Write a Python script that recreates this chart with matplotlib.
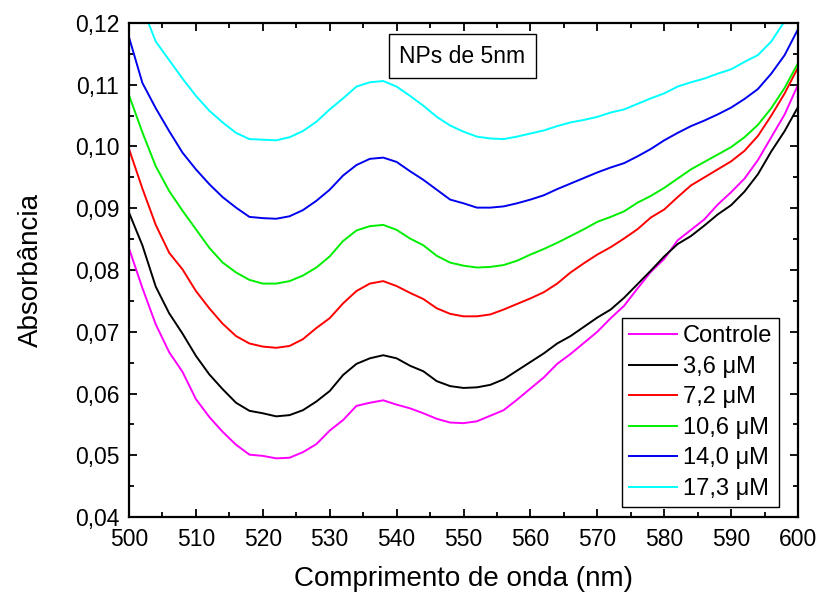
import numpy as np
import matplotlib
matplotlib.use('Agg')
import matplotlib.pyplot as plt
from matplotlib.ticker import MultipleLocator, FuncFormatter

plt.rcParams['font.family'] = ['Liberation Sans', 'DejaVu Sans']

# wavelength grid (nm)
wl = np.arange(500, 601, 2)

controle = [0.0835, 0.0771, 0.0712, 0.0667, 0.0635, 0.0591, 0.0562, 0.0538, 0.0517, 0.0501,
            0.0499, 0.0495, 0.0496, 0.0505, 0.0518, 0.0540, 0.0557, 0.0580, 0.0585, 0.0589,
            0.0582, 0.0576, 0.0568, 0.0559, 0.0553, 0.0552, 0.0555, 0.0564, 0.0573, 0.0590,
            0.0608, 0.0626, 0.0648, 0.0664, 0.0682, 0.0700, 0.0722, 0.0742, 0.0770, 0.0797,
            0.0818, 0.0848, 0.0865, 0.0882, 0.0906, 0.0926, 0.0948, 0.0978, 0.1015, 0.1052,
            0.1100]
c36 = [0.0893, 0.0840, 0.0773, 0.0730, 0.0697, 0.0661, 0.0631, 0.0607, 0.0585, 0.0572,
       0.0568, 0.0563, 0.0565, 0.0573, 0.0587, 0.0604, 0.0630, 0.0648, 0.0657, 0.0662,
       0.0657, 0.0645, 0.0636, 0.0620, 0.0612, 0.0609, 0.0610, 0.0614, 0.0623, 0.0637,
       0.0651, 0.0665, 0.0681, 0.0693, 0.0708, 0.0723, 0.0736, 0.0755, 0.0777, 0.0799,
       0.0822, 0.0842, 0.0855, 0.0872, 0.0890, 0.0905, 0.0927, 0.0955, 0.0992, 0.1025,
       0.1064]
c72 = [0.0996, 0.0932, 0.0873, 0.0828, 0.0801, 0.0766, 0.0738, 0.0713, 0.0693, 0.0681,
       0.0676, 0.0674, 0.0677, 0.0688, 0.0706, 0.0722, 0.0746, 0.0766, 0.0778, 0.0782,
       0.0774, 0.0763, 0.0753, 0.0738, 0.0729, 0.0725, 0.0725, 0.0728, 0.0736, 0.0745,
       0.0754, 0.0764, 0.0778, 0.0796, 0.0811, 0.0825, 0.0837, 0.0851, 0.0866, 0.0885,
       0.0898, 0.0918, 0.0937, 0.0950, 0.0963, 0.0976, 0.0993, 0.1017, 0.1050, 0.1086,
       0.1128]
c106 = [0.1083, 0.1023, 0.0968, 0.0928, 0.0896, 0.0866, 0.0836, 0.0812, 0.0796, 0.0784,
        0.0778, 0.0778, 0.0782, 0.0791, 0.0804, 0.0822, 0.0847, 0.0864, 0.0871, 0.0873,
        0.0865, 0.0851, 0.0840, 0.0823, 0.0812, 0.0807, 0.0804, 0.0805, 0.0808, 0.0815,
        0.0825, 0.0834, 0.0844, 0.0855, 0.0866, 0.0878, 0.0886, 0.0895, 0.0909, 0.0920,
        0.0933, 0.0948, 0.0963, 0.0975, 0.0987, 0.0999, 0.1015, 0.1035, 0.1062, 0.1095,
        0.1135]
c140 = [0.1177, 0.1103, 0.1062, 0.1025, 0.0990, 0.0963, 0.0939, 0.0918, 0.0901, 0.0886,
        0.0884, 0.0883, 0.0887, 0.0897, 0.0912, 0.0930, 0.0953, 0.0970, 0.0980, 0.0982,
        0.0975, 0.0960, 0.0946, 0.0930, 0.0914, 0.0908, 0.0901, 0.0901, 0.0903, 0.0908,
        0.0914, 0.0921, 0.0931, 0.0940, 0.0949, 0.0958, 0.0966, 0.0973, 0.0984, 0.0996,
        0.1010, 0.1022, 0.1033, 0.1042, 0.1052, 0.1063, 0.1077, 0.1093, 0.1118, 0.1148,
        0.1190]
c173 = [0.1265, 0.1225, 0.1170, 0.1140, 0.1110, 0.1082, 0.1058, 0.1039, 0.1022, 0.1012,
        0.1011, 0.1010, 0.1015, 0.1025, 0.1040, 0.1060, 0.1078, 0.1097, 0.1104, 0.1106,
        0.1097, 0.1082, 0.1066, 0.1048, 0.1034, 0.1024, 0.1016, 0.1013, 0.1012, 0.1016,
        0.1021, 0.1026, 0.1033, 0.1039, 0.1043, 0.1048, 0.1055, 0.1060, 0.1069, 0.1078,
        0.1086, 0.1097, 0.1104, 0.1110, 0.1118, 0.1125, 0.1137, 0.1148, 0.1170, 0.1203,
        0.1240]

series = [controle, c36, c72, c106, c140, c173]
labels = ['Controle', '3,6 \u03bcM', '7,2 \u03bcM', '10,6 \u03bcM', '14,0 \u03bcM', '17,3 \u03bcM']
colors = ['#ff00ff', '#000000', '#ff0000', '#00ee00', '#0000ee', '#00ffff']

fig = plt.figure(figsize=(8.19, 5.94), dpi=100)
ax = fig.add_axes([0.1575, 0.1296, 0.8169, 0.8317])

for y, lab, col in zip(series, labels, colors):
    ax.plot(wl, y, color=col, lw=1.4, label=lab)

ax.set_xlim(500, 600)
ax.set_ylim(0.04, 0.12)
ax.xaxis.set_major_locator(MultipleLocator(10))
ax.xaxis.set_minor_locator(MultipleLocator(5))
ax.yaxis.set_major_locator(MultipleLocator(0.01))
ax.yaxis.set_minor_locator(MultipleLocator(0.005))
ax.yaxis.set_major_formatter(FuncFormatter(lambda v, p: ('%.2f' % v).replace('.', ',')))
ax.tick_params(which='both', direction='in', top=True, right=True, width=1.3,
               labelsize=16.5)
ax.tick_params(which='major', length=6)
ax.tick_params(which='minor', length=3.5)
ax.tick_params(axis='y', pad=7)
ax.tick_params(axis='x', pad=8)
for s in ax.spines.values():
    s.set_linewidth(1.6)

ax.set_xlabel('Comprimento de onda (nm)', fontsize=20, labelpad=11)
ax.set_ylabel('Absorbância', fontsize=20, labelpad=22)

ax.text(0.4985, 0.933, 'NPs de 5nm', transform=ax.transAxes, ha='center', va='center',
        fontsize=16.5, bbox=dict(boxstyle='square,pad=0.45', fc='white', ec='black', lw=1))

leg = ax.legend(loc='lower right', bbox_to_anchor=(0.9716, 0.0202), fontsize=17,
                frameon=True, fancybox=False, edgecolor='black', framealpha=1,
                handlelength=2.0, labelspacing=0.36, borderpad=0.3, handletextpad=0.25,
                borderaxespad=0)
leg.get_frame().set_linewidth(1)

fig.savefig('out.png', dpi=100)
